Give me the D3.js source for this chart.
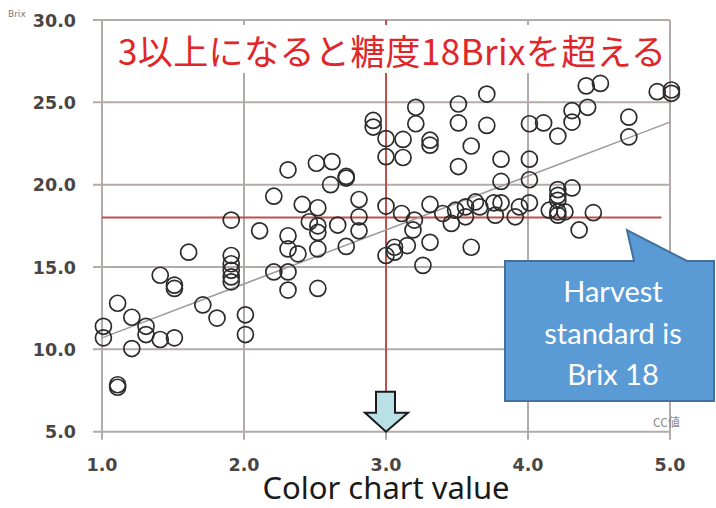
<!DOCTYPE html>
<html>
<head>
<meta charset="utf-8">
<title>Color chart value vs Brix</title>
<script src="https://cdn.jsdelivr.net/npm/d3@7"></script>
<style>
  body { margin: 0; background: #fff; }
  svg { display: block; }
</style>
</head>
<body>
<script>
// color chart value (x) and Brix (y) for each sample
var ccValues = [
  1.01, 1.01, 1.11, 1.11, 1.11, 1.21, 1.21, 1.31, 1.31, 1.41, 1.41, 1.51, 1.51, 1.51,
  1.61, 1.71, 1.81, 1.91, 1.91, 1.91, 1.91, 1.91, 1.91, 2.01, 2.01, 2.11, 2.21, 2.21,
  2.31, 2.31, 2.31, 2.31, 2.31, 2.38, 2.41, 2.46, 2.51, 2.52, 2.52, 2.52, 2.52, 2.52,
  2.62, 2.61, 2.66, 2.72, 2.72, 2.72, 2.81, 2.81, 2.81, 2.91, 2.91,
  3.0, 3.0, 3.0, 3.0, 3.06, 3.06, 3.12, 3.12, 3.11, 3.21, 3.21, 3.2, 3.19, 3.15, 3.26,
  3.31, 3.31, 3.31, 3.31, 3.40, 3.46, 3.51, 3.51, 3.51, 3.49, 3.56, 3.56, 3.60, 3.60,
  3.63, 3.66, 3.71, 3.71, 3.76, 3.77, 3.81, 3.81, 3.81, 3.91, 3.94, 4.01, 4.01, 4.01,
  4.01, 4.11, 4.15, 4.21, 4.21, 4.21, 4.21, 4.21, 4.21, 4.26, 4.31, 4.31, 4.31, 4.36,
  4.41, 4.42, 4.46, 4.51, 4.71, 4.71, 4.91, 5.01, 5.01
];
var brixValues = [
  11.4, 10.7, 12.8, 7.85, 7.7, 11.95, 10.05, 11.4, 10.9, 14.5, 10.6, 13.9, 13.7, 10.7,
  15.9, 12.7, 11.9, 17.85, 15.7, 15.2, 14.8, 14.4, 14.1, 12.1, 10.9, 17.2, 19.3, 14.7,
  20.9, 16.9, 16.1, 14.7, 13.6, 15.8, 18.8, 17.75, 21.3, 18.6, 17.5, 17.1, 16.1, 13.7,
  21.4, 20.0, 17.55, 20.5, 20.4, 16.25, 19.1, 18.05, 17.2, 23.9, 23.5,
  22.8, 21.7, 18.7, 15.7, 16.2, 15.9, 22.75, 21.65, 18.25, 24.7, 23.7, 17.85, 17.25, 16.3, 15.1,
  22.7, 22.4, 18.8, 16.5, 18.25, 17.65, 24.9, 23.75, 21.1, 18.45, 18.65, 18.05, 22.35, 16.2,
  18.95, 18.65, 25.5, 23.6, 18.9, 18.15, 21.55, 20.2, 18.9, 18.05, 18.65, 23.7, 21.55, 20.3,
  18.9, 23.75, 18.45, 22.95, 19.7, 19.35, 19.05, 18.35, 18.15, 18.35, 24.5, 23.8, 19.8, 17.25,
  26.0, 24.7, 18.3, 26.15, 24.1, 22.9, 25.65, 25.75, 25.55
];
// approximate trend line
var trendX = [1.0, 5.0];
var trendY = [10.7, 23.8];

var xTicks = [1, 2, 3, 4, 5];
var yTicks = [5, 10, 15, 20, 25, 30];
var harvestBrix = 18;
var ccThreshold = 3;

var w = 716, h = 508;
var svg = d3.select("body").append("svg").attr("width", w).attr("height", h);

var xScale = d3.scaleLinear().domain([1, 5]).range([102, 670]);
var yScale = d3.scaleLinear().domain([5, 30]).range([431.7, 20]);

var gridColor = "#b3aaaa";

// horizontal grid lines with small stubs on the left
svg.selectAll("line.hgrid").data(yTicks).enter().append("line")
  .attr("class", "hgrid")
  .attr("x1", xScale(1) - 9).attr("x2", xScale(5))
  .attr("y1", function(d) { return yScale(d); })
  .attr("y2", function(d) { return yScale(d); })
  .attr("stroke", gridColor).attr("stroke-width", 2);

// vertical grid lines with stubs below
svg.selectAll("line.vgrid").data(xTicks).enter().append("line")
  .attr("class", "vgrid")
  .attr("x1", function(d) { return xScale(d); })
  .attr("x2", function(d) { return xScale(d); })
  .attr("y1", yScale(30)).attr("y2", yScale(5) + 8)
  .attr("stroke", gridColor).attr("stroke-width", 2);

// red reference lines
svg.append("line")
  .attr("x1", xScale(1)).attr("x2", xScale(4.94))
  .attr("y1", yScale(harvestBrix)).attr("y2", yScale(harvestBrix))
  .attr("stroke", "#c0504d").attr("stroke-width", 2);
svg.append("line")
  .attr("x1", xScale(ccThreshold)).attr("x2", xScale(ccThreshold))
  .attr("y1", yScale(30)).attr("y2", yScale(5) - 40)
  .attr("stroke", "#c0504d").attr("stroke-width", 2);

// trend line
var lineFun = d3.line()
  .x(function(d) { return xScale(d[0]); })
  .y(function(d) { return yScale(d[1]); });
svg.append("path")
  .attr("d", lineFun(d3.zip(trendX, trendY)))
  .attr("stroke", "#a09a9a").attr("stroke-width", 1.5).attr("fill", "none");

// scatter points
svg.selectAll("circle.pt").data(d3.zip(ccValues, brixValues)).enter().append("circle")
  .attr("class", "pt")
  .attr("cx", function(d) { return xScale(d[0]); })
  .attr("cy", function(d) { return yScale(d[1]); })
  .attr("r", 8)
  .attr("fill", "none")
  .attr("stroke", "#2b2b2b")
  .attr("stroke-width", 1.7);

// axis labels
svg.selectAll("text.ylab").data(yTicks).enter().append("text")
  .attr("class", "ylab")
  .text(function(d) { return d.toFixed(1); })
  .attr("x", 76)
  .attr("y", function(d) { return yScale(d) + 6.5; })
  .attr("text-anchor", "end")
  .attr("font-family", "DejaVu Sans")
  .attr("font-weight", "bold")
  .attr("font-size", 17.5)
  .attr("fill", "#4a4545");

svg.selectAll("text.xlab").data(xTicks).enter().append("text")
  .attr("class", "xlab")
  .text(function(d) { return d.toFixed(1); })
  .attr("x", function(d) { return xScale(d); })
  .attr("y", 471)
  .attr("text-anchor", "middle")
  .attr("font-family", "DejaVu Sans")
  .attr("font-weight", "bold")
  .attr("font-size", 17.5)
  .attr("fill", "#4a4545");

svg.append("text").text("Brix")
  .attr("x", 8).attr("y", 17)
  .attr("font-family", "DejaVu Sans").attr("font-size", 9).attr("fill", "#777");

svg.append("text").text("CC値")
  .attr("x", 653).attr("y", 427)
  .attr("font-family", "Noto Sans CJK JP").attr("font-size", 12).attr("fill", "#8a8a8a");

svg.append("text").text("Color chart value")
  .attr("x", 386).attr("y", 499)
  .attr("text-anchor", "middle")
  .attr("font-family", "Noto Sans")
  .attr("font-size", 31)
  .attr("fill", "#1a1a1a");

// title over white box
svg.append("rect")
  .attr("x", 106).attr("y", 25).attr("width", 560).attr("height", 48)
  .attr("fill", "#fff");
svg.append("text").text("3以上になると糖度18Brixを超える")
  .attr("x", 118).attr("y", 65)
  .attr("font-family", "Noto Sans CJK JP")
  .attr("font-size", 35)
  .attr("textLength", 548)
  .attr("fill", "#e0262a");

// down arrow at cc = 3
var ax = xScale(ccThreshold), ay = yScale(5);
svg.append("path")
  .attr("d", "M" + (ax - 10) + "," + (ay - 40) + " L" + (ax + 9) + "," + (ay - 40) +
    " L" + (ax + 9) + "," + (ay - 19) + " L" + (ax + 22) + "," + (ay - 19) +
    " L" + ax + "," + ay + " L" + (ax - 21) + "," + (ay - 19) +
    " L" + (ax - 10) + "," + (ay - 19) + " Z")
  .attr("fill", "#b8e0e6").attr("stroke", "#1a1a1a").attr("stroke-width", 2)
  .attr("stroke-linejoin", "miter");

// callout
svg.append("path")
  .attr("d", "M505,261 L634,261 L627,230 L687,261 L714,261 L714,401 L505,401 Z")
  .attr("fill", "#5b9bd5").attr("stroke", "#41719c").attr("stroke-width", 2);
var calloutLines = ["Harvest", "standard is", "Brix 18"];
svg.selectAll("text.call").data(calloutLines).enter().append("text")
  .attr("class", "call")
  .text(function(d) { return d; })
  .attr("x", 613)
  .attr("y", function(d, i) { return 302 + i * 41.5; })
  .attr("text-anchor", "middle")
  .attr("font-family", "Lato")
  .attr("font-size", 29)
  .attr("fill", "#fff");
</script>
</body>
</html>
